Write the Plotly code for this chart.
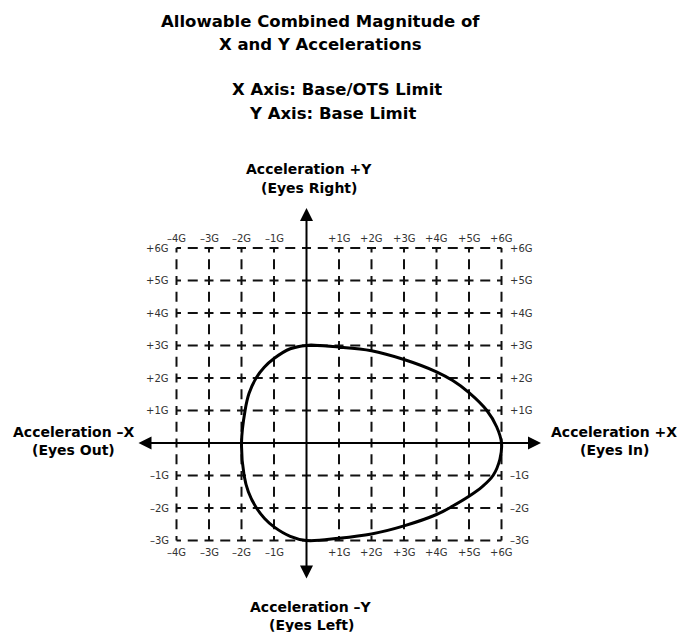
import plotly.graph_objects as go

# ---------------- data ----------------
grid_x = [-4, -3, -2, -1, 1, 2, 3, 4, 5, 6]
grid_y = [-3, -2, -1, 1, 2, 3, 4, 5, 6]
x_tick_labels = ["–4G", "–3G", "–2G", "–1G", "+1G", "+2G", "+3G", "+4G", "+5G", "+6G"]
y_tick_labels = ["–3G", "–2G", "–1G", "+1G", "+2G", "+3G", "+4G", "+5G", "+6G"]

# envelope of allowable combined acceleration, traced clockwise
curve_x = [-0.5, 0, 1, 2, 3, 4, 4.5, 5, 5.55, 5.85, 6.0, 5.95, 5.74, 5.4, 5, 4.5, 4, 3, 2, 1, 0,
           -0.5, -1, -1.29, -1.54, -1.79, -1.92, -2.0, -1.89, -1.77, -1.55, -1.3, -1, -0.5, 0, 1]
curve_y = [2.9, 3, 2.95, 2.84, 2.57, 2.19, 1.92, 1.55, 1.0, 0.5, 0, -0.5, -1, -1.35, -1.64, -1.94,
           -2.2, -2.55, -2.8, -2.93, -3, -2.87, -2.58, -2.32, -2, -1.5, -1, 0, 1, 1.52, 2, 2.33,
           2.6, 2.9, 3, 2.95]

title_lines = ["Allowable Combined Magnitude of", "X and Y Accelerations",
               "X Axis: Base/OTS Limit", "Y Axis: Base Limit"]

# ---------------- layout constants ----------------
W, H = 679, 632
PX = 32.5          # pixels per G
OX, OY = 306.5, 443.0  # pixel position of origin

xmin, xmax = min(grid_x), max(grid_x)
ymin, ymax = min(grid_y), max(grid_y)

fig = go.Figure()

dash = "4.5px,6.75px,10px,6.75px,4.5px,0px"
grid_color = "#111111"
for gx in grid_x:
    fig.add_trace(go.Scatter(x=[gx, gx], y=[ymax, ymin], mode="lines",
                             line=dict(color=grid_color, width=2, dash=dash),
                             hoverinfo="skip", showlegend=False))
for gy in grid_y:
    fig.add_trace(go.Scatter(x=[xmin, xmax], y=[gy, gy], mode="lines",
                             line=dict(color=grid_color, width=2, dash=dash),
                             hoverinfo="skip", showlegend=False))

# envelope curve
fig.add_trace(go.Scatter(x=curve_x, y=curve_y, mode="lines",
                         line=dict(color="black", width=3, shape="spline", smoothing=1),
                         hoverinfo="skip", showlegend=False))

annotations = []
tick_font = dict(family="DejaVu Sans", size=10, color="#333333")
for gx, lab in zip(grid_x, x_tick_labels):
    annotations.append(dict(x=gx, y=ymax, xref="x", yref="y", text=lab, showarrow=False,
                            yshift=10, font=tick_font, xanchor="center", yanchor="middle"))
    annotations.append(dict(x=gx, y=ymin, xref="x", yref="y", text=lab, showarrow=False,
                            yshift=-12, font=tick_font, xanchor="center", yanchor="middle"))
for gy, lab in zip(grid_y, y_tick_labels):
    annotations.append(dict(x=xmin, y=gy, xref="x", yref="y", text=lab, showarrow=False,
                            xshift=-6, font=tick_font, xanchor="right", yanchor="middle"))
    annotations.append(dict(x=xmax, y=gy, xref="x", yref="y", text=lab, showarrow=False,
                            xshift=6, font=tick_font, xanchor="left", yanchor="middle"))

# axes with arrows
def px2x(p):
    return (p - OX) / PX

def px2y(p):
    return (OY - p) / PX

ax_style = dict(showarrow=True, arrowhead=2, startarrowhead=2, arrowside="end+start",
                arrowsize=1.3, startarrowsize=1.3, arrowwidth=2, arrowcolor="black",
                xref="x", yref="y", axref="x", ayref="y", text="")
annotations.append(dict(x=px2x(541), y=0, ax=px2x(137), ay=0, **ax_style))
annotations.append(dict(x=0, y=px2y(208), ax=0, ay=px2y(580), **ax_style))

def label(text, xp, yp, size):
    annotations.append(dict(x=xp / W, y=1 - yp / H, xref="paper", yref="paper",
                            text="<b>" + text + "</b>", showarrow=False,
                            font=dict(family="DejaVu Sans", size=size, color="black"),
                            xanchor="center", yanchor="middle"))

label(title_lines[0], 320, 22, 16.5)
label(title_lines[1], 320, 44, 16.5)
label(title_lines[2], 337, 90, 16.5)
label(title_lines[3], 332, 113, 16.5)
label("Acceleration +Y", 309, 169, 14)
label("(Eyes Right)", 309, 188, 14)
label("Acceleration –Y", 311, 607, 14)
label("(Eyes Left)", 311, 625, 14)
label("Acceleration –X", 74, 432, 14)
label("(Eyes Out)", 73, 450, 14)
label("Acceleration +X", 614, 432, 14)
label("(Eyes In)", 614, 450, 14)

fig.update_layout(
    width=W, height=H, autosize=False,
    margin=dict(l=0, r=0, t=0, b=0, pad=0),
    paper_bgcolor="white", plot_bgcolor="white",
    xaxis=dict(range=[px2x(0), px2x(W)], visible=False, fixedrange=True),
    yaxis=dict(range=[px2y(H), px2y(0)], visible=False, fixedrange=True),
    annotations=annotations,
    showlegend=False,
)

fig.write_html("out.html", config={"displayModeBar": False},
               post_script="document.body.style.margin='0';document.body.style.overflow='hidden';")
